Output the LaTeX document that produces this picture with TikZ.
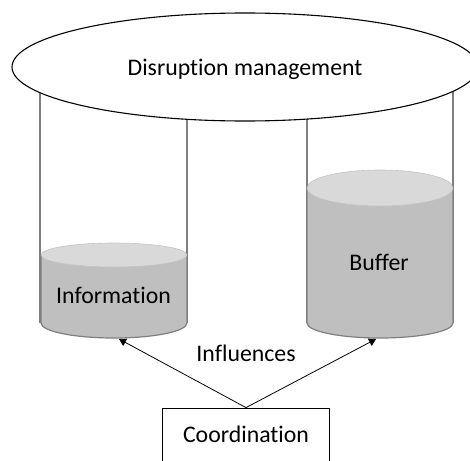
\documentclass[tikz,border=0pt]{standalone}
\usepackage{fontspec}
\setmainfont{Carlito}[Ligatures={NoCommon}]
\usepackage{tikz}
\usetikzlibrary{arrows.meta}
\definecolor{dnxamnhat}{HTML}{D9D9D9}
\definecolor{dnxam}{HTML}{BFBFBF}
\definecolor{dnxamdam}{HTML}{7F7F7F}
\def\mauvien{dnxamdam}
\def\maulong{dnxam}
\def\maumat{dnxamnhat}
\begin{document}
\begin{tikzpicture}[x=1pt,y=1pt,font=\fontsize{23.8}{28}\selectfont,
	declare function={ra=73;rt=12;rd=15;rs=18;}]
		\useasboundingbox (0,0) rectangle (470,-460);
		\clip (0,0) rectangle (470,-460);
		% thanh doc
		\path[draw=\mauvien,line width=1.2pt]
		(40,-67) -- (40,-323)
		(187,-67) -- (187,-323)
		(307,-67) -- (307,-323)
		(453,-67) -- (453,-323)
		;
		\path[draw=black,fill=white,line width=1.1pt] (245,-67) ellipse (233 and 54);
		% coc trai
		\path[fill=\maulong] (41,-255) -- (41,-323) arc (180:360:ra and rd) -- (187,-255) -- cycle;
		\path[draw=\mauvien,line width=1.2pt] (41,-255) -- (41,-323) arc (180:360:ra and rd) -- (187,-255);
		\path[fill=\maumat,draw=\maumat!90!black,line width=.6pt] (114,-255) ellipse (ra and rt);
		% coc phai
		\path[fill=\maulong] (307,-188) -- (307,-323) arc (180:360:ra and rd) -- (453,-188) -- cycle;
		\path[draw=\mauvien,line width=1.2pt] (307,-188) -- (307,-323) arc (180:360:ra and rd) -- (453,-188);
		\path[fill=\maumat,draw=\maumat!90!black,line width=.6pt] (380,-188) ellipse (ra and rs);
		% chu
		\path (245,-75) node[anchor=base] (quanly) {Disruption management}
		(113.5,-303) node[anchor=base] (thongtin) {Information}
		(379,-270) node[anchor=base] (dem) {Buffer}
		(246,-361) node[anchor=base] (anhhuong) {Influences}
		(246,-442) node[anchor=base,draw,line width=.8pt,minimum width=167pt,inner sep=4pt,text height=30pt,text depth=36pt] (phoihop) {Coordination}
		;
		\path (119,-339) coordinate (daytrai)
		(376,-339) coordinate (dayphai)
		;
		\draw[line width=.8pt,-{Triangle[width=8pt,length=7pt]}] (phoihop.north) -- (daytrai);
		\draw[line width=.8pt,-{Triangle[width=8pt,length=7pt]}] (phoihop.north) -- (dayphai);
	\end{tikzpicture}
\end{document}
